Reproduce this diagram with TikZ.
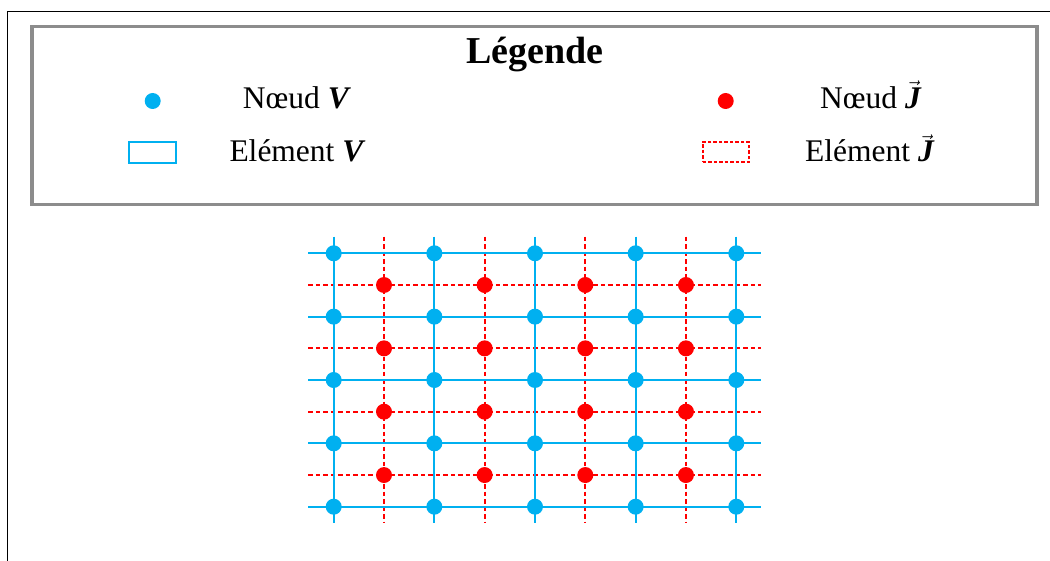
\documentclass[tikz,border=0pt]{standalone}
\usepackage{fontspec}
\setmainfont{Liberation Serif}
\definecolor{vblue}{HTML}{00B0F0}
\definecolor{jred}{HTML}{FF0000}
\definecolor{lgray}{HTML}{8C8C8C}
\newcommand{\vecJ}{$\vec{\mbox{\bfseries\itshape J}}$}
\newcommand{\boldV}{\textbf{\textit{V}}}
\begin{document}
\begin{tikzpicture}[x=1pt,y=-1pt,
  vdot/.style={circle, fill=vblue, inner sep=0pt, minimum size=16pt},
  jdot/.style={circle, fill=jred, inner sep=0pt, minimum size=16pt},
  vline/.style={draw=vblue, line width=2pt},
  jline/.style={draw=jred, line width=2pt, dash pattern=on 4.5pt off 3pt},
  outerframe/.style={draw=black, line width=1.3pt},
  legbox/.style={draw=lgray, line width=3.5pt},
  lbl/.style={anchor=base west, inner sep=0pt, font=\fontsize{31.5}{36}\selectfont},
  vrect/.style={draw=vblue, line width=2pt, minimum width=46.5pt, minimum height=20.4pt, inner sep=0pt},
  jrect/.style={draw=jred, line width=2pt, dash pattern=on 3.5pt off 2pt, minimum width=46.5pt, minimum height=20.4pt, inner sep=0pt}]
\useasboundingbox (0,0) rectangle (1050,561);
% outer frame (top and left edges)
\coordinate (fbl) at (7.3,563);
\coordinate (ftl) at (7.3,11.3);
\coordinate (ftr) at (1052,11.3);
\draw[outerframe] (fbl) -- (ftl) -- (ftr);
% legend box
\node[legbox, minimum width=1005pt, minimum height=178pt, inner sep=0pt] (legend) at (534.7,115.7) {};
\node[anchor=base, inner sep=0pt, font=\fontsize{38}{44}\selectfont\bfseries] (title) at (534.7,64) {Légende};
\node[vdot] (lvdot) at (152.7,101) {};
\node[lbl] (lvnode) at (242.7,108.3) {Nœud \boldV};
\node[vrect] (lvrect) at (152.7,152.5) {};
\node[lbl] (lvelem) at (229.3,162) {Elément \boldV};
\node[jdot] (ljdot) at (725.7,101) {};
\node[lbl] (ljnode) at (820,108.3) {Nœud \vecJ};
\node[jrect] (ljrect) at (725.8,152.3) {};
\node[lbl] (ljelem) at (805,162) {Elément \vecJ};
% red dashed grid (J elements)
\foreach \j in {0,...,3}{
  \coordinate (jhl\j) at (308.3,285+63.35*\j);
  \coordinate (jhr\j) at (761,285+63.35*\j);
  \draw[jline] (jhl\j) -- (jhr\j);
}
\foreach \i in {0,...,3}{
  \coordinate (jvt\i) at (384+100.65*\i,236.7);
  \coordinate (jvb\i) at (384+100.65*\i,523.3);
  \draw[jline] (jvt\i) -- (jvb\i);
}
% blue grid (V elements)
\foreach \j in {0,...,4}{
  \coordinate (vhl\j) at (308.3,253.3+63.35*\j);
  \coordinate (vhr\j) at (761,253.3+63.35*\j);
  \draw[vline] (vhl\j) -- (vhr\j);
}
\foreach \i in {0,...,4}{
  \coordinate (vvt\i) at (333.7+100.65*\i,236.7);
  \coordinate (vvb\i) at (333.7+100.65*\i,523.3);
  \draw[vline] (vvt\i) -- (vvb\i);
}
% nodes
\foreach \i in {0,...,4}{
  \foreach \j in {0,...,4}{
    \node[vdot] (v-\i-\j) at (333.7+100.65*\i,253.3+63.35*\j) {};
  }
}
\foreach \i in {0,...,3}{
  \foreach \j in {0,...,3}{
    \node[jdot] (j-\i-\j) at (384+100.65*\i,285+63.35*\j) {};
  }
}
\end{tikzpicture}
\end{document}
